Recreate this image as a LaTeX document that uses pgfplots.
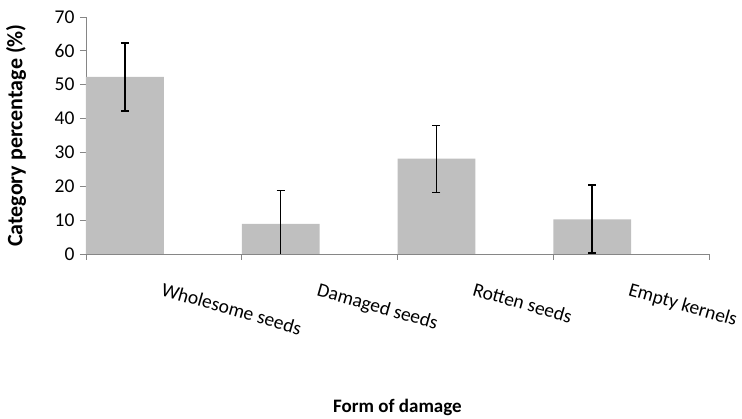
\documentclass[border=0pt]{standalone}
\usepackage{pgfplots}
\pgfplotsset{compat=1.18}
\usepackage{fontspec}
\setmainfont{Carlito}
\definecolor{bargray}{HTML}{BFBFBF}
\definecolor{axgray}{HTML}{868686}
\begin{document}
\begin{tikzpicture}
\begin{axis}[
  scale only axis, width=623pt, height=237pt,
  xmin=0, xmax=4, ymin=0, ymax=70,
  ytick={0,10,...,70},
  xtick={0.5,1.5,2.5,3.5},
  xticklabels={Wholesome seeds, Damaged seeds, Rotten seeds, Empty kernels},
  minor xtick={0,1,2,3,4},
  axis x line*=bottom, axis y line*=left,
  axis line style={axgray, line width=0.9pt},
  tick align=outside,
  major tick length=6pt, minor tick length=6pt,
  major x tick style={draw=none},
  minor x tick style={axgray, line width=0.9pt},
  y tick style={axgray, line width=0.9pt},
  /pgf/number format/assume math mode=true,
  ticklabel style={font=\fontsize{19.5}{22}\selectfont, text=black},
  yticklabel style={xshift=-2pt},
  xticklabel style={yshift=-22pt, rotate=-16, anchor=north west, inner sep=0pt},
  xlabel={Form of damage},
  ylabel={Category percentage (\%)},
  every axis x label/.style={at={(axis description cs:0.5,0)}, yshift=-153pt, anchor=center, font=\fontsize{19}{22}\selectfont\bfseries},
  every axis y label/.style={at={(axis description cs:0,0.5)}, xshift=-70pt, rotate=90, anchor=center, font=\fontsize{22}{25}\selectfont\bfseries},
  clip mode=individual,
]
\addplot[ybar, bar width=0.5, fill=bargray, draw=none,
  error bars/.cd, y dir=both, y explicit,
  error bar style={black, line width=1.5pt},
  error mark options={black, rotate=90, mark size=4pt, line width=1.5pt}]
  table[x=x, y=y, y error plus=ep, y error minus=em] {
x y ep em
0.25 52.3 10.0 10.0
1.25 8.9 9.9 9.9
2.25 28.2 9.7 10.0
3.25 10.2 10.2 9.9
};
\end{axis}
\pgfresetboundingbox
\path (-86pt,-165pt) rectangle (656pt,254pt);
\end{tikzpicture}
\end{document}
